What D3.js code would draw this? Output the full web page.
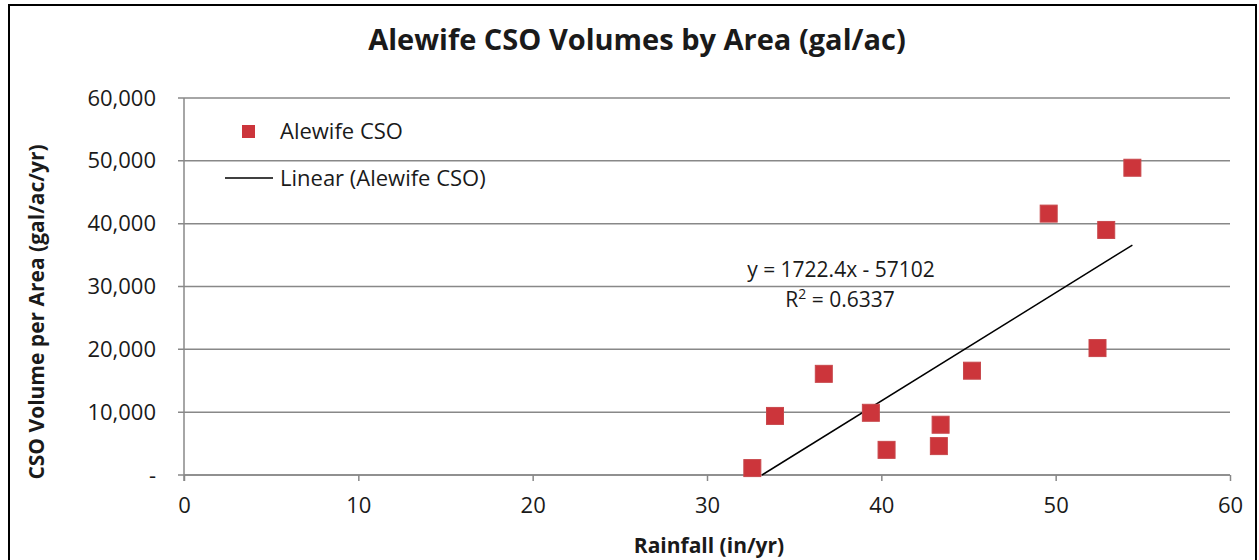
<!DOCTYPE html>
<html><head><meta charset="utf-8">
<script src="https://cdn.jsdelivr.net/npm/d3@7"></script>
<style>
body{margin:0;background:#fff;}
svg{display:block;}
text{font-family:"Open Sans",sans-serif;fill:#1a1a1a;}
</style></head>
<body>
<svg id="chart" width="1259" height="560"></svg>
<script>
const rainfall = [32.6, 33.9, 36.7, 39.4, 40.3, 43.3, 43.4, 45.2, 49.6, 52.4, 52.9, 54.4];
const csoVolume = [1100, 9400, 16100, 9900, 4000, 4600, 8000, 16600, 41600, 20200, 39000, 48900];
const xTicks = [0, 10, 20, 30, 40, 50, 60];
const yTicks = [0, 10000, 20000, 30000, 40000, 50000, 60000];
const trendSlope = 1722.4, trendIntercept = -57102, rSquared = 0.6337;
const titleText = "Alewife CSO Volumes by Area (gal/ac)";
const xTitle = "Rainfall (in/yr)";
const yTitle = "CSO Volume per Area (gal/ac/yr)";
const seriesName = "Alewife CSO";
const trendName = "Linear (Alewife CSO)";

const svg = d3.select("#chart");
svg.append("rect").attr("x",9).attr("y",5).attr("width",1247).attr("height",570)
  .attr("fill","#fff").attr("stroke","#000").attr("stroke-width",2);

const L=184, R=1230, T=98, B=475;
const x = d3.scaleLinear().domain([0,60]).range([L,R]);
const y = d3.scaleLinear().domain([0,60000]).range([B,T]);

// gridlines
svg.append("g").selectAll("line").data(yTicks).join("line")
  .attr("x1",L-6).attr("x2",R).attr("y1",d=>y(d)).attr("y2",d=>y(d))
  .attr("stroke","#888").attr("stroke-width",1.5);

// y axis
const fmt = d => d===0 ? "-" : d3.format(",")(d);
const yAxis = svg.append("g").attr("transform",`translate(${L},0)`)
  .call(d3.axisLeft(y).tickValues(yTicks).tickFormat(fmt).tickSize(0).tickPadding(28));
yAxis.select(".domain").attr("stroke","#888").attr("stroke-width",1.5).attr("d",`M0,${T}V${B+6}`);
yAxis.selectAll("text").attr("font-size",22).attr("fill","#1a1a1a").attr("font-family","Open Sans");

// x axis
const xAxis = svg.append("g").attr("transform",`translate(0,${B})`)
  .call(d3.axisBottom(x).tickValues(xTicks).tickSize(6).tickPadding(16));
xAxis.select(".domain").attr("stroke","#888").attr("stroke-width",1.5).attr("d",`M${L},0H${R}`);
xAxis.selectAll(".tick line").attr("stroke","#888").attr("stroke-width",1.5);
xAxis.selectAll("text").attr("font-size",22).attr("fill","#1a1a1a").attr("font-family","Open Sans");

// trendline
const xs = d3.extent(rainfall);
const xStart = Math.max(xs[0], -trendIntercept/trendSlope);
svg.append("line")
  .attr("x1",x(xStart)).attr("y1",y(trendSlope*xStart+trendIntercept))
  .attr("x2",x(xs[1])).attr("y2",y(trendSlope*xs[1]+trendIntercept))
  .attr("stroke","#000").attr("stroke-width",1.5);

// points
const pts = rainfall.map((r,i)=>({x:r,y:csoVolume[i]}));
const s=17;
svg.append("g").selectAll("rect").data(pts).join("rect")
  .attr("x",d=>x(d.x)-s/2).attr("y",d=>y(d.y)-s/2).attr("width",s).attr("height",s)
  .attr("fill","#cc353b").attr("stroke","#c8484c").attr("stroke-width",1);

// equation
svg.append("text").attr("x",841).attr("y",277).attr("text-anchor","middle").attr("font-size",21)
  .text(`y = ${trendSlope}x - ${Math.abs(trendIntercept)}`);
const r2 = svg.append("text").attr("x",840).attr("y",307).attr("text-anchor","middle").attr("font-size",21);
r2.append("tspan").text("R");
r2.append("tspan").attr("font-size",14).attr("dy",-8).text("2");
r2.append("tspan").attr("dy",8).text(` = ${rSquared}`);

// legend
svg.append("rect").attr("x",242).attr("y",125).attr("width",13).attr("height",13).attr("fill","#cc353b");
svg.append("text").attr("x",280).attr("y",139).attr("font-size",22).text(seriesName);
svg.append("line").attr("x1",225).attr("x2",273).attr("y1",178).attr("y2",178).attr("stroke","#000").attr("stroke-width",1.5);
svg.append("text").attr("x",280).attr("y",186).attr("font-size",22).text(trendName);

// title
svg.append("text").attr("x",637).attr("y",50).attr("text-anchor","middle").attr("font-size",29)
  .attr("font-weight","bold").text(titleText);
// axis titles
svg.append("text").attr("x",709).attr("y",553).attr("text-anchor","middle").attr("font-size",21)
  .attr("font-weight","bold").text(xTitle);
svg.append("text").attr("transform","translate(44,312) rotate(-90)").attr("text-anchor","middle")
  .attr("font-size",21).attr("font-weight","bold").text(yTitle);
</script>
</body></html>
